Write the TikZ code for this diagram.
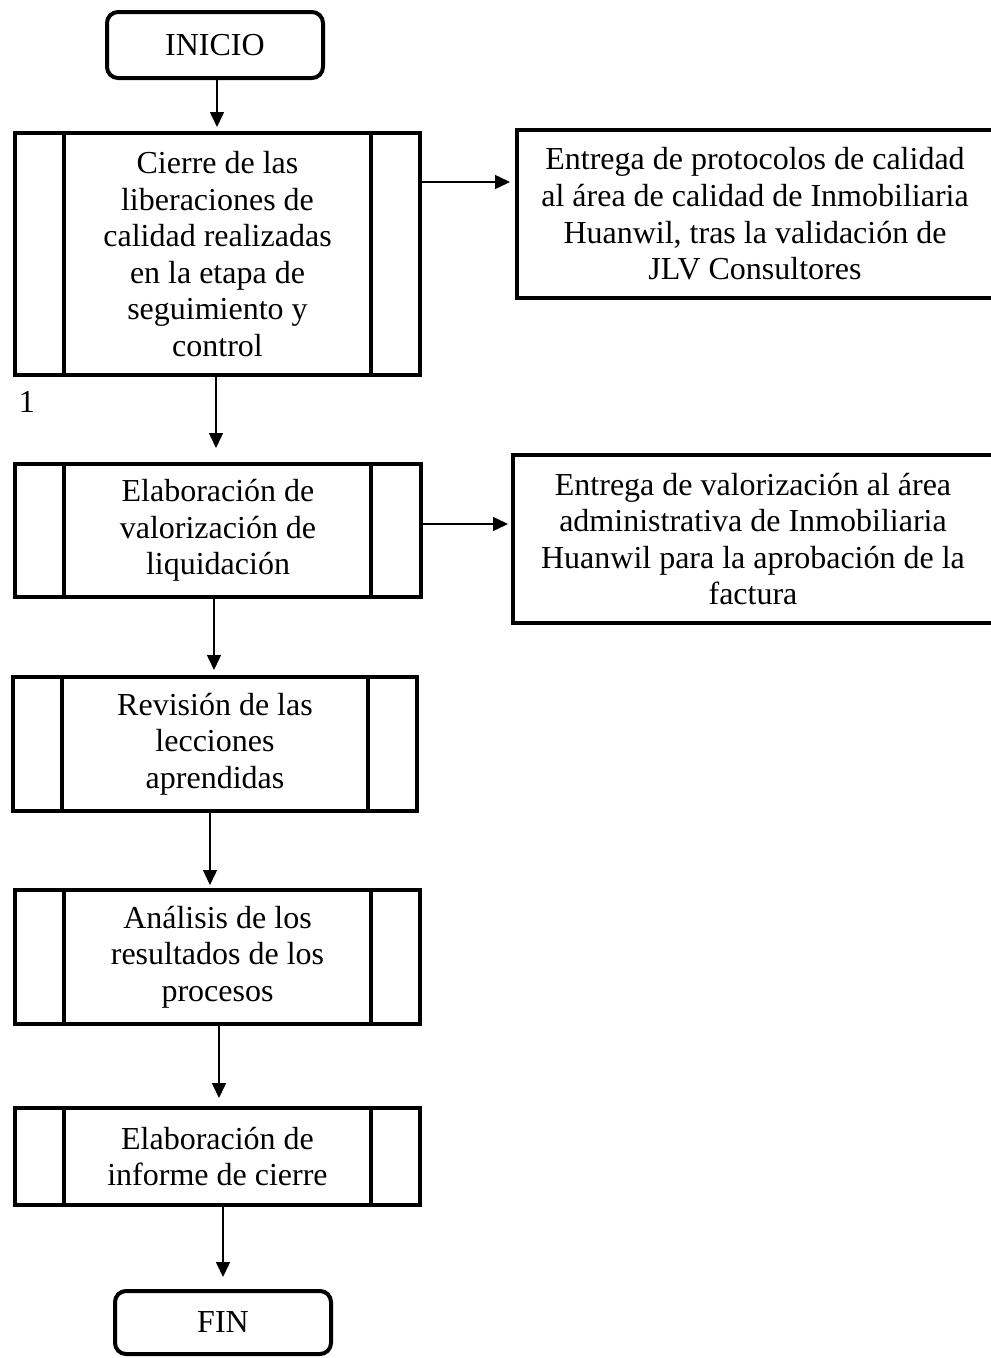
\documentclass[tikz,border=0pt]{standalone}
\usepackage{fontspec}
\setmainfont{Liberation Serif}
\usetikzlibrary{arrows.meta}
\begin{document}
\begin{tikzpicture}[x=1pt,y=-1pt,
  every node/.style={font=\fontsize{32}{36.6}\selectfont, inner sep=0pt, outer sep=0pt, align=center},
  terminal/.style={draw, line width=4pt, rounded corners=11pt, minimum width=216pt},
  procbox/.style={draw, line width=4pt},
  notebox/.style={draw, line width=4.5pt, minimum height=168pt},
  arr/.style={line width=1.5pt, -{Triangle[length=15pt,width=14pt]}},
  sideline/.style={line width=4pt}
]
\useasboundingbox (0,0) rectangle (991,1358);

% start / end terminals
\node[terminal, minimum height=66pt] (inicio) at (215,45) {INICIO};
\node[terminal, minimum height=63pt] (fin) at (223,1322.5) {FIN};

% predefined-process boxes
\node[procbox, minimum width=405pt, minimum height=242pt] (b1) at (217.5,254)
  {Cierre de las\\liberaciones de\\calidad realizadas\\en la etapa de\\seguimiento y\\control};
\node[procbox, minimum width=406pt, minimum height=133pt] (b2) at (218,530.5)
  {Elaboración de\\valorización de\\liquidación};
\node[procbox, minimum width=404pt, minimum height=134pt] (b3) at (215,744)
  {Revisión de las\\lecciones\\aprendidas};
\node[procbox, minimum width=405pt, minimum height=134pt] (b4) at (217.5,957)
  {Análisis de los\\resultados de los\\procesos};
\node[procbox, minimum width=405pt, minimum height=97pt] (b5) at (217.5,1156.5)
  {Elaboración de\\informe de cierre};

% inner side bars of the process boxes
\foreach \b/\xl/\xr in {b1/64/371, b2/64/371, b3/62/368, b4/64/371, b5/64/371}{
  \draw[sideline] (\b.north -| \xl,0) -- (\b.south -| \xl,0);
  \draw[sideline] (\b.north -| \xr,0) -- (\b.south -| \xr,0);
}

% side deliverables
\node[notebox, minimum width=476pt] (r1) at (755,214)
  {Entrega de protocolos de calidad\\al área de calidad de Inmobiliaria\\Huanwil, tras la validación de\\JLV Consultores};
\node[notebox, minimum width=480pt] (r2) at (753,539)
  {Entrega de valorización al área\\administrativa de Inmobiliaria\\Huanwil para la aprobación de la\\factura};

% step number
\node (num) at (27,402) {1};

% main flow
\draw[arr, shorten >=6pt]  (inicio.south -| 217,0) -- (b1.north -| 217,0);
\draw[arr, shorten >=16pt] (b1.south -| 216,0) -- (b2.north -| 216,0);
\draw[arr, shorten >=7pt]  (b2.south -| 214,0) -- (b3.north -| 214,0);
\draw[arr, shorten >=5pt]  (b3.south -| 210,0) -- (b4.north -| 210,0);
\draw[arr, shorten >=10pt] (b4.south -| 219,0) -- (b5.north -| 219,0);
\draw[arr, shorten >=14pt] (b5.south -| 223,0) -- (fin.north -| 223,0);

% branches to deliverables
\draw[arr, shorten >=7pt] (b1.east |- 0,182) -- (r1.west |- 0,182);
\draw[arr, shorten >=5pt] (b2.east |- 0,524) -- (r2.west |- 0,524);
\end{tikzpicture}
\end{document}
